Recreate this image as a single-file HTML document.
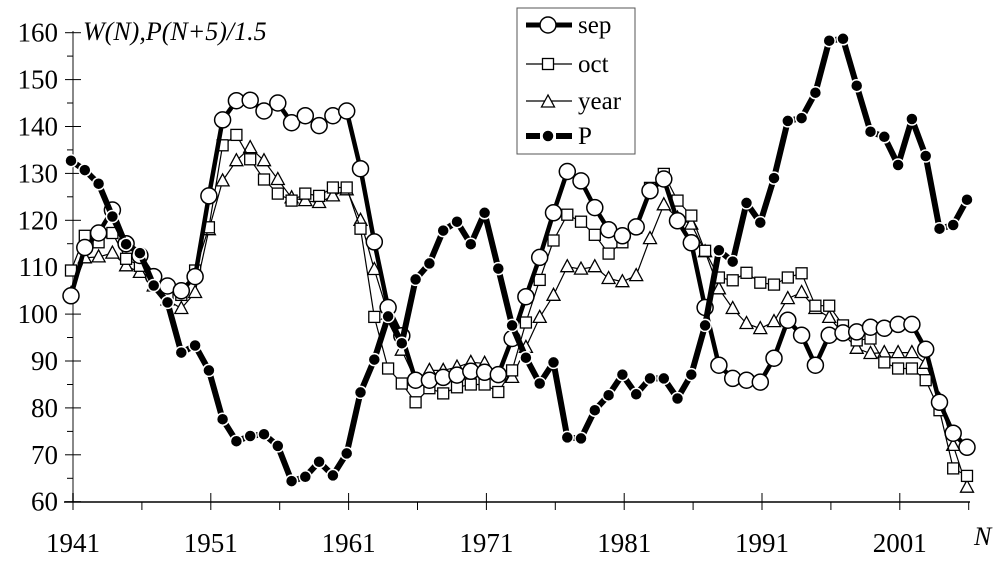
<!DOCTYPE html>
<html><head><meta charset="utf-8"><style>
html,body{margin:0;padding:0;background:#fff;}
svg text{font-family:"Liberation Serif","Times New Roman","DejaVu Serif",serif;}
</style></head><body>
<svg id="s" width="1008" height="567" viewBox="0 0 1008 567" xmlns="http://www.w3.org/2000/svg"></svg>
<script>
var sep=[103.9,114.2,117.3,122.2,115,112.5,108,106,105,108,125.2,141.4,145.5,145.6,143.3,145,140.8,142.3,140.2,142.3,143.3,131,115.4,101.4,95.4,85.9,85.9,86.5,87,87.8,87.6,87.1,94.8,103.7,112.1,121.6,130.4,128.4,122.7,118,116.7,118.6,126.3,128.8,119.9,115.2,101.4,89.1,86.3,85.9,85.5,90.6,98.7,95.5,89.1,95.5,96,96.2,97.2,97,97.8,97.8,92.5,81.2,74.6,71.6];
var oct=[109.3,116.7,115.3,117.3,111.8,110.3,107,104.4,104.1,109.3,118.5,136,138.2,133,128.7,125.7,124.2,125.7,125.2,127,127,118.2,99.4,88.4,85.2,81.2,84.2,83.1,84.4,85,85,83.4,88,98.2,107.3,115.7,121.2,119.7,116.9,112.9,115.3,118.4,126.9,129.9,124.2,121,113.5,107.8,107.2,108.8,106.7,106.3,107.8,108.7,101.8,101.8,97.6,94.4,94.8,89.7,88.4,88.4,85.9,79.5,67.1,65.5];
var yr=[104.4,112,112.2,113,110.3,108.9,106,103,101.2,104.6,118,128.4,132.7,135.5,132.7,128.7,124.8,124.2,123.8,125.2,126.5,120,109.5,100,92.3,85.9,88,88,88.7,89.7,89.5,87.1,86.5,92.9,99.3,104,110.1,109.6,110.1,107.6,106.9,108.2,116.1,123.3,120.5,119.2,113.3,105.4,101.2,98,96.9,98.4,103.3,104.6,101.2,99.3,95.9,92.7,91.6,91.8,91.8,91.8,89.5,81.8,72,63.1];
var P=[132.7,130.7,127.8,120.8,114.9,113,106.1,102.5,91.8,93.3,88,77.6,72.9,74,74.4,71.9,64.4,65.3,68.5,65.6,70.3,83.3,90.3,99.5,93.8,107.4,110.8,117.8,119.7,114.9,121.6,109.7,97.6,90.7,85.2,89.7,73.7,73.5,79.5,82.7,87.1,82.9,86.3,86.3,82,87.1,97.6,113.6,111.2,123.7,119.5,129,141.2,141.8,147.2,158.3,158.7,148.7,138.9,137.8,131.8,141.6,133.7,118.2,119,124.4];
function X(i){return Math.round((71+13.785*i)*10)/10;}
function Y(v){return Math.round((501.7-(v-60)*4.69)*10)/10;}
var F=' font-family="Liberation Serif, Times New Roman, DejaVu Serif, serif"';
var h='';
h+='<line x1="73" y1="31" x2="73" y2="502" stroke="#888" stroke-width="2"/>';
for(var v=60;v<=160;v+=5){var y=Y(v);var maj=v%10==0;
 h+='<line x1="'+(maj?65:67)+'" y1="'+y+'" x2="'+(maj?81:73)+'" y2="'+y+'" stroke="#000" stroke-width="1"/>';
 if(maj)h+='<text'+F+' x="58" y="'+(y+9)+'" font-size="27" text-anchor="end">'+v+'</text>';}
h+='<line x1="64" y1="502" x2="970" y2="502" stroke="#000" stroke-width="1.5"/>';
for(var k=0;k<=13;k++){var x=73+k*68.9;var maj=k%2==0;
 h+='<line x1="'+x+'" y1="'+(maj?493:502)+'" x2="'+x+'" y2="510" stroke="#000" stroke-width="1"/>';
 if(maj)h+='<text'+F+' x="'+x+'" y="552" font-size="27" text-anchor="middle">'+(1941+k*5)+'</text>';}
h+='<text'+F+' x="83" y="40" font-size="26" font-style="italic">W(N),P(N+5)/1.5</text>';
h+='<text'+F+' x="974" y="545" font-size="26" font-style="italic">N</text>';
function pl(d,w){var p='';for(var i=0;i<d.length;i++)p+=X(i)+','+Y(d[i])+' ';
 return '<polyline points="'+p+'" fill="none" stroke="#000" stroke-width="'+w+'" stroke-linejoin="round"/>';}
function circ(x,y){return '<circle cx="'+x+'" cy="'+y+'" r="8" fill="#fff" stroke="#000" stroke-width="1.5"/>';}
function sq(x,y){return '<rect x="'+(x-5.5)+'" y="'+(y-5.5)+'" width="11" height="11" fill="#fff" stroke="#000" stroke-width="1.3"/>';}
function tri(x,y){return '<polygon points="'+x+','+(y-7)+' '+(x-6.5)+','+(y+5)+' '+(x+6.5)+','+(y+5)+'" fill="#fff" stroke="#000" stroke-width="1.3"/>';}
function dot(x,y){return '<circle cx="'+x+'" cy="'+y+'" r="6" fill="#000" stroke="#fff" stroke-width="1.5"/>';}
function mk(d,f){var s='';for(var i=0;i<d.length;i++)s+=f(X(i),Y(d[i]));return s;}
h+=pl(yr,1.2)+mk(yr,tri);
h+=pl(oct,1.2)+mk(oct,sq);
h+=pl(sep,4.5)+mk(sep,circ);
h+=pl(P,6)+mk(P,dot);
h+='<rect x="517" y="8" width="118" height="146" fill="#fff" stroke="#555" stroke-width="1"/>';
var ly=[25,64,101,136],lb=['sep','oct','year','P'];
h+='<line x1="526" y1="25" x2="572" y2="25" stroke="#000" stroke-width="5"/>'+circ(548,25);
h+='<line x1="526" y1="64" x2="572" y2="64" stroke="#000" stroke-width="1.2"/>'+sq(548,64);
h+='<line x1="526" y1="101" x2="572" y2="101" stroke="#000" stroke-width="1.2"/>'+tri(548,102);
h+='<line x1="526" y1="136" x2="540" y2="136" stroke="#000" stroke-width="6"/><line x1="556" y1="136" x2="572" y2="136" stroke="#000" stroke-width="6"/>'+dot(548,136);
for(var i=0;i<4;i++)h+='<text'+F+' x="578" y="'+(ly[i]+8)+'" font-size="25">'+lb[i]+'</text>';
document.getElementById('s').innerHTML=h;
</script>
</body></html>
